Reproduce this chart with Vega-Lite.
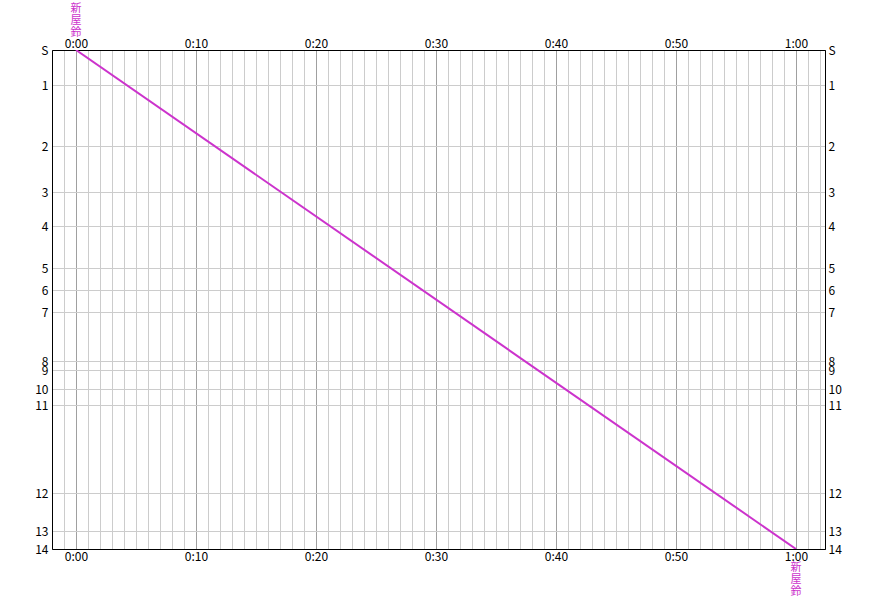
{
  "$schema": "https://vega.github.io/schema/vega-lite/v6.json",
  "width": 773,
  "height": 499,
  "autosize": "none",
  "padding": {"left": 52, "top": 50, "right": 52, "bottom": 51},
  "background": "white",
  "config": {
    "view": {"stroke": "black", "strokeWidth": 1},
    "axis": {
      "domainColor": "black",
      "ticks": false,
      "labelFont": "Noto Sans CJK JP",
      "labelFontSize": 12,
      "labelColor": "black",
      "labelOverlap": false,
      "labelBound": false,
      "labelFlush": false,
      "title": null
    }
  },
  "datasets": {
    "train": [
      {"t": 0, "pos": 0},
      {"t": 60, "pos": 499}
    ],
    "names": [
      {"t": 0, "pos": 0, "c1": "新", "c2": "屋", "c3": "鈴", "side": "top"},
      {"t": 60, "pos": 499, "c1": "新", "c2": "屋", "c3": "鈴", "side": "bottom"}
    ]
  },
  "resolve": {"axis": {"x": "independent", "y": "independent"}},
  "layer": [
    {
      "data": {"name": "train"},
      "mark": {"type": "line", "color": "#cc33cc", "strokeWidth": 2, "clip": true},
      "encoding": {
        "x": {
          "field": "t", "type": "quantitative",
          "scale": {"domain": [-2, 62.42], "nice": false, "zero": false},
          "axis": {
            "orient": "bottom",
            "grid": true,
            "gridColor": {"condition": {"test": "datum.value % 10 == 0", "value": "#a0a0a0"}, "value": "#cccccc"},
            "gridOpacity": 1,
            "values": [-2,-1,0,1,2,3,4,5,6,7,8,9,10,11,12,13,14,15,16,17,18,19,20,21,22,23,24,25,26,27,28,29,30,31,32,33,34,35,36,37,38,39,40,41,42,43,44,45,46,47,48,49,50,51,52,53,54,55,56,57,58,59,60,61,62],
            "labelExpr": "datum.value % 10 == 0 && datum.value >= 0 ? floor(datum.value/60) + ':' + (datum.value % 60 == 0 ? '00' : '' + (datum.value % 60)) : ''",
            "labelPadding": 2,
            "labelBaseline": "top"
          }
        },
        "y": {
          "field": "pos", "type": "quantitative",
          "scale": {"domain": [0, 499], "reverse": true, "nice": false, "zero": false},
          "axis": {
            "orient": "left",
            "grid": true,
            "gridColor": "#cccccc",
            "gridOpacity": 1,
            "values": [0, 35, 96, 142, 176, 218, 240, 262, 311, 320, 339, 355, 443, 481, 499],
            "labelExpr": "['S','1','2','3','4','5','6','7','8','9','10','11','12','13','14'][indexof([0, 35, 96, 142, 176, 218, 240, 262, 311, 320, 339, 355, 443, 481, 499], datum.value)]",
            "labelPadding": 4,
            "labelBaseline": "middle"
          }
        }
      }
    },
    {
      "data": {"name": "names"},
      "transform": [
        {"filter": "datum.side == 'top'"},
        {"calculate": "[datum.c1, datum.c2, datum.c3]", "as": "label"}
      ],
      "mark": {
        "type": "text",
        "color": "#cc33cc",
        "font": "Noto Sans CJK JP",
        "fontSize": 11,
        "lineHeight": 12,
        "align": "center",
        "baseline": "top",
        "dy": -47
      },
      "encoding": {
        "x": {
          "field": "t", "type": "quantitative",
          "scale": {"domain": [-2, 62.42], "nice": false, "zero": false},
          "axis": {
            "orient": "top",
            "grid": false,
            "values": [0, 10, 20, 30, 40, 50, 60],
            "labelExpr": "floor(datum.value/60) + ':' + (datum.value % 60 == 0 ? '00' : '' + (datum.value % 60))",
            "labelPadding": 0,
            "labelBaseline": "bottom"
          }
        },
        "y": {
          "field": "pos", "type": "quantitative",
          "scale": {"domain": [0, 499], "reverse": true, "nice": false, "zero": false},
          "axis": {
            "orient": "right",
            "grid": false,
            "values": [0, 35, 96, 142, 176, 218, 240, 262, 311, 320, 339, 355, 443, 481, 499],
            "labelExpr": "['S','1','2','3','4','5','6','7','8','9','10','11','12','13','14'][indexof([0, 35, 96, 142, 176, 218, 240, 262, 311, 320, 339, 355, 443, 481, 499], datum.value)]",
            "labelPadding": 3,
            "labelBaseline": "middle"
          }
        },
        "text": {"field": "label"}
      }
    },
    {
      "data": {"name": "names"},
      "transform": [
        {"filter": "datum.side == 'bottom'"},
        {"calculate": "[datum.c1, datum.c2, datum.c3]", "as": "label"}
      ],
      "mark": {
        "type": "text",
        "color": "#cc33cc",
        "font": "Noto Sans CJK JP",
        "fontSize": 11,
        "lineHeight": 12,
        "align": "center",
        "baseline": "top",
        "dy": 13
      },
      "encoding": {
        "x": {"field": "t", "type": "quantitative", "axis": null},
        "y": {"field": "pos", "type": "quantitative", "axis": null},
        "text": {"field": "label"}
      }
    }
  ]
}
